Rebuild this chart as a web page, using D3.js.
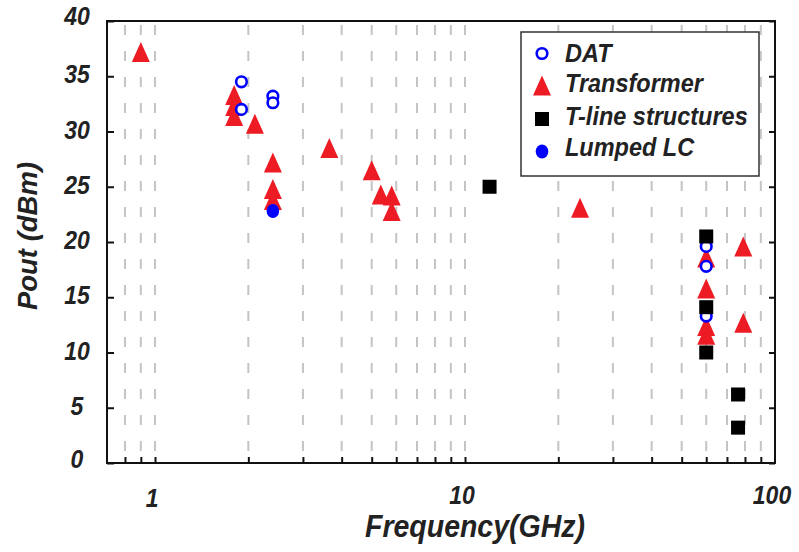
<!DOCTYPE html>
<html>
<head>
<meta charset="utf-8">
<script src="https://cdn.jsdelivr.net/npm/d3@7"></script>
<style>
html,body{margin:0;padding:0;background:#fff;}
svg{display:block;}
text{font-family:"Liberation Sans",Arial,Helvetica,sans-serif;font-weight:bold;font-style:italic;fill:#222;}
</style>
</head>
<body>
<svg id="chart" width="799" height="552"></svg>
<script>
// ---- data ----
const datFreq = [1.9, 1.9, 2.4, 2.4, 60, 60, 60];
const datPout = [34.5, 32.0, 33.2, 32.6, 19.6, 17.8, 13.3];

const trFreq = [0.9, 1.8, 1.8, 1.8, 2.1, 2.4, 2.4, 2.4, 3.65, 5.0, 5.35, 5.8, 5.8, 23.5, 60, 60, 60, 60, 79, 79];
const trPout = [37.2, 33.3, 32.3, 31.4, 30.7, 27.2, 24.8, 23.8, 28.5, 26.5, 24.3, 24.2, 22.8, 23.1, 18.6, 15.8, 12.4, 11.6, 19.6, 12.7];

const tlFreq = [12, 60, 60, 60, 76, 76];
const tlPout = [25.0, 20.5, 14.1, 10.0, 6.2, 3.2];

const lcFreq = [2.4];
const lcPout = [22.8];

const yTicks = [0, 5, 10, 15, 20, 25, 30, 35, 40];
const xLabelTicks = [1, 10, 100];
const xMinorTicks = [0.8, 0.9, 1, 2, 3, 4, 5, 6, 7, 8, 9, 10, 20, 30, 40, 50, 60, 70, 80, 90];
const legendNames = ["DAT", "Transformer", "T-line structures", "Lumped LC"];

// ---- layout ----
const svg = d3.select("#chart");
const L = 107, R = 775, T = 21, B = 463;
const x = d3.scaleLog().domain([0.7, 100]).range([L, R]);
const y = d3.scaleLinear().domain([0, 40]).range([B, T]);
const K = 1.1; // vertical text stretch
const RED = "#ed1c24", BLUE = "#0000ff";

// gridlines
svg.append("g").selectAll("line").data(xMinorTicks).join("line")
  .attr("x1", d => x(d)).attr("x2", d => x(d))
  .attr("y1", T).attr("y2", B)
  .attr("stroke", "#c4c4c4").attr("stroke-width", 2)
  .attr("stroke-dasharray", "10,16").attr("stroke-dashoffset", 22);

// axes via d3
const gB = svg.append("g").attr("transform", `translate(0,${B})`)
  .call(d3.axisBottom(x).tickValues(xMinorTicks).tickSizeInner(-6).tickSizeOuter(0).tickFormat(""));
const gL = svg.append("g").attr("transform", `translate(${L},0)`)
  .call(d3.axisLeft(y).tickValues(yTicks).tickSizeInner(-7).tickSizeOuter(0).tickFormat(""));
const gR = svg.append("g").attr("transform", `translate(${R},0)`)
  .call(d3.axisRight(y).tickValues(yTicks).tickSizeInner(-6).tickSizeOuter(0).tickFormat(""));
[gB, gL, gR].forEach(g => {
  g.selectAll("line").attr("stroke", "#111").attr("stroke-width", 2);
  g.select(".domain").remove();
});

// frame
svg.append("rect").attr("x", L).attr("y", T).attr("width", R - L).attr("height", B - T)
  .attr("fill", "none").attr("stroke", "#111").attr("stroke-width", 2);

// tick labels
function stext(g, tx, ty, str, size, anchor, rot) {
  return g.append("text")
    .attr("transform", `translate(${tx},${ty})` + (rot ? ` rotate(${rot})` : "") + ` scale(1,${K})`)
    .attr("text-anchor", anchor).style("font-size", size + "px").text(str);
}
const labels = svg.append("g");
yTicks.forEach(v => {
  stext(labels, 77, y(v) + 7 - (v === 40 ? 3 : 0) - (v === 0 ? 2 : 0), String(v), 23, "middle");
});
xLabelTicks.forEach(v => {
  stext(labels, x(v) - 3, 504 + (v === 1 ? 3 : 0), String(v), 23, "middle");
});

// axis titles
stext(labels, 475, 537, "Frequency(GHz)", 28.5, "middle");
labels.append("text").attr("transform", `translate(37,236) rotate(-90)`)
  .attr("text-anchor", "middle").style("font-size", "27.5px").text("Pout (dBm)");

// markers
const tri = (w, h) => `M0,${-h/2}L${w/2},${h/2}L${-w/2},${h/2}Z`;
const marks = svg.append("g");
marks.selectAll("path.tr").data(trFreq.map((f, i) => [f, trPout[i]])).join("path")
  .attr("class", "tr").attr("d", tri(18, 20))
  .attr("transform", d => `translate(${x(d[0])},${y(d[1])})`).attr("fill", RED);
marks.selectAll("circle.dat").data(datFreq.map((f, i) => [f, datPout[i]])).join("circle")
  .attr("class", "dat").attr("cx", d => x(d[0])).attr("cy", d => y(d[1])).attr("r", 5.3)
  .attr("fill", "#fff").attr("stroke", BLUE).attr("stroke-width", 2.6);
marks.selectAll("rect.tl").data(tlFreq.map((f, i) => [f, tlPout[i]])).join("rect")
  .attr("class", "tl").attr("x", d => x(d[0]) - 7).attr("y", d => y(d[1]) - 7)
  .attr("width", 14).attr("height", 14).attr("fill", "#000");
marks.selectAll("ellipse.lc").data(lcFreq.map((f, i) => [f, lcPout[i]])).join("ellipse")
  .attr("class", "lc").attr("cx", d => x(d[0])).attr("cy", d => y(d[1]))
  .attr("rx", 6.3).attr("ry", 7).attr("fill", BLUE);

// legend
const lg = svg.append("g");
lg.append("rect").attr("x", 521).attr("y", 32).attr("width", 238).attr("height", 144)
  .attr("fill", "#fff").attr("stroke", "#333").attr("stroke-width", 1.5);
const rowY = [53.5, 85.5, 119, 151.5];
const mx = 542;
lg.append("circle").attr("cx", mx).attr("cy", rowY[0]).attr("r", 5.3)
  .attr("fill", "#fff").attr("stroke", BLUE).attr("stroke-width", 2.6);
lg.append("path").attr("d", tri(18, 20)).attr("transform", `translate(${mx},${rowY[1]})`).attr("fill", RED);
lg.append("rect").attr("x", mx - 7).attr("y", rowY[2] - 7).attr("width", 14).attr("height", 14).attr("fill", "#000");
lg.append("ellipse").attr("cx", mx).attr("cy", rowY[3]).attr("rx", 6.3).attr("ry", 7).attr("fill", BLUE);
const textBase = [61.5, 92, 124.5, 156];
legendNames.forEach((n, i) => stext(lg, 565, textBase[i], n, 23.5, "start"));
</script>
</body>
</html>
